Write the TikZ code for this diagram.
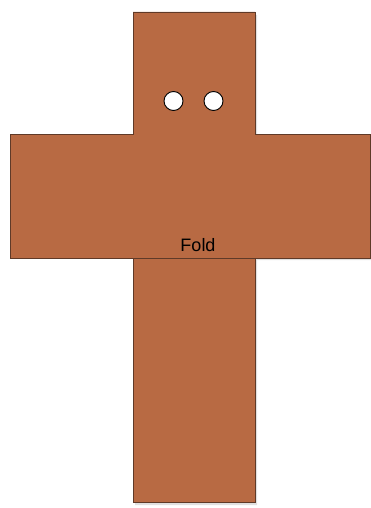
\documentclass[tikz,border=0pt]{standalone}
\usepackage{fontspec}
\setmainfont{Liberation Sans}
\usetikzlibrary{positioning}
\definecolor{clay}{RGB}{184,106,67}
\definecolor{clayedge}{RGB}{95,58,40}
\begin{document}
\begin{tikzpicture}[
    x=1pt, y=-1pt,
    every node/.style={font=\fontsize{18}{20}\selectfont},
    piece/.style={draw=clayedge, line width=0.9pt, fill=clay, line join=miter},
    foldline/.style={draw=clayedge, line width=0.9pt},
    hole/.style={circle, draw=black, line width=0.9pt, fill=white, minimum size=19pt, inner sep=0pt}
]
\useasboundingbox (0,0) rectangle (371,508);
% faint shadow
\fill[black!12] (135,15) -- (257,15) -- (257,136) -- (373,136) -- (373,260)
    -- (257,260) -- (257,505) -- (135,505) -- cycle;
% cross outline
\draw[piece] (133,12) -- (255,12) -- (255,134) -- (370,134) -- (370,258)
    -- (255,258) -- (255,502) -- (133,502) -- (133,258) -- (10,258)
    -- (10,134) -- (133,134) -- cycle;
\coordinate (foldL) at (133,258);
\coordinate (foldR) at (255,258);
\draw[foldline] (foldL) -- (foldR);
\node[hole] (eyeL) at (173.5,101) {};
\node[hole] (eyeR) at (213.5,101) {};
\node[anchor=base, inner sep=0pt] (fold) at (198,251.5) {Fold};
\end{tikzpicture}
\end{document}
